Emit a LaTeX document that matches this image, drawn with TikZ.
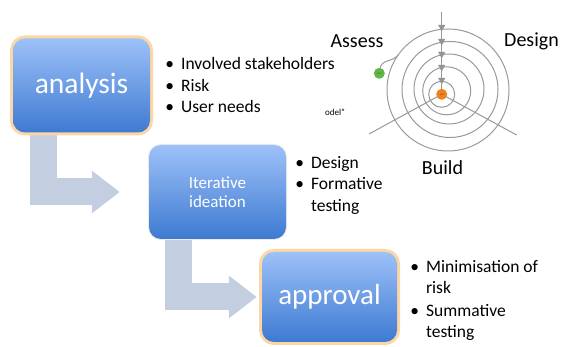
\documentclass[tikz,border=0pt]{standalone}
\usepackage{fontspec}
\setmainfont{Carlito}
\usetikzlibrary{arrows.meta, positioning, calc, backgrounds}
\definecolor{boxtop}{RGB}{157,193,248}
\definecolor{boxbot}{RGB}{62,122,210}
\definecolor{flowc}{RGB}{196,206,225}
\definecolor{glowc}{RGB}{252,214,165}
\definecolor{startc}{RGB}{96,182,72}
\definecolor{endc}{RGB}{240,130,30}

\begin{document}
\begin{tikzpicture}[x=1pt, y=1pt,
node distance = 10pt and 12pt,
   box/.style = {rounded corners=12pt, top color=boxtop, bottom color=boxbot,
                 text=white, minimum width=137pt, minimum height=94pt, align=center},
  glow/.style = {preaction={draw=glowc, line width=6pt}},
  flow/.style = {draw=flowc, line width=27pt, -{Triangle[length=28pt, width=41pt]}},
  list/.style = {inner sep=0pt, font=\fontsize{17.5}{21.5}\selectfont},
  ring/.style = {draw=gray!80, line width=1pt},
   lbl/.style = {font=\fontsize{20}{24}\selectfont},
   dot/.style = {circle, minimum size=11pt, inner sep=0pt, text=black!70,
                 font=\fontsize{2.5}{3}\selectfont},
         ]
\useasboundingbox (0,0) rectangle (562,347);
\node (n1)  [box, glow, font=\fontsize{29.5}{33}\selectfont] at (81.5,261.5) {analysis};
\node (n2)  [box, preaction={draw=black!8, line width=2pt},
             font=\fontsize{17}{19}\selectfont] at (217.5,155) {Iterative\\ideation};
\node (n3)  [box, glow, minimum width=135pt, minimum height=90pt,
             font=\fontsize{29}{33}\selectfont] at (329.5,50) {approval};
\node (l1)  [list, below right=16pt and 15pt of n1.north east]
    {\begin{tabular}{@{}l@{\hspace{7pt}}l@{}}
     \textbullet & Involved stakeholders\\
     \textbullet & Risk\\
     \textbullet & User needs
     \end{tabular}};
\node (l2)  [list, below right=8pt and 9pt of n2.north east]
    {\begin{tabular}{@{}l@{\hspace{7pt}}l@{}}
     \textbullet & Design\\
     \textbullet & Formative\\
                 & testing
     \end{tabular}};
\node (l3)  [list, below right=5pt and 13pt of n3.north east]
    {\begin{tabular}{@{}l@{\hspace{7pt}}l@{}}
     \textbullet & Minimisation of\\
                 & risk\\[1pt]
     \textbullet & Summative\\
                 & testing
     \end{tabular}};
%
\begin{scope}[on background layer]
\draw[flow] ([xshift=-38pt]n1.south) |- ([xshift=-29pt]n2.west);
\draw[flow] ([xshift=-39pt]n2.south) |- ([xshift=-5pt]n3.west);
\end{scope}
% spiral
\coordinate (c1) at (448,257);
\coordinate (o)  at (441.7,252.7);
\coordinate (up) at (441.7,335);
\coordinate (sw) at (369,213);
\coordinate (se) at (516.7,212);
\foreach \cx/\cy/\r in {448/257/61, 450/257.5/48, 449/258/35, 446.7/256.2/24}
    \draw[ring] (\cx,\cy) circle (\r);
\draw[ring] (o) circle (13);
\draw[ring] (up) -- (o);
\draw[ring] (o) -- (sw);
\draw[ring] (o) -- (se);
\foreach \yy in {319,305,292,279,266}
    \fill[gray!85] (441.7-3.5,\yy+3) -- (441.7+3.5,\yy+3) -- (441.7,\yy-3.5) -- cycle;
\node (end)   [dot, fill=endc] at (o) {end};
\node (start) [dot, fill=startc] at (379.3,273.7) {start};
\draw[ring] (start) to[out=80, in=235] ($(c1)+(145:61)$);
\node (as) [lbl] at (357,306) {Assess};
\node (de) [lbl] at (531.5,306) {Design};
\node (bu) [lbl] at (442.5,179.5) {Build};
\node (fr) [font=\fontsize{9}{10}\selectfont] at (335,235) {odel”};
\end{tikzpicture}
\end{document}
